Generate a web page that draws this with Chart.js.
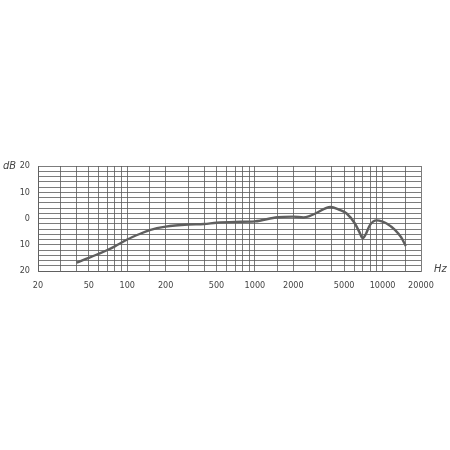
<!DOCTYPE html>
<html>
<head>
<meta charset="utf-8">
<script src="https://cdn.jsdelivr.net/npm/chart.js@4"></script>
<style>
  html, body { margin: 0; padding: 0; background: #fff; }
  #wrap { width: 450px; height: 450px; }
</style>
</head>
<body>
<div id="wrap"><canvas id="responseChart" width="450" height="450"></canvas></div>
<script>
// frequency response
const freqs = [40, 50, 60, 70, 80, 100, 125, 150, 200, 300, 400, 500, 700, 1000, 1500, 2000, 2400, 2700, 3000, 3900, 4600, 5230, 6070, 6560, 6980, 7400, 7960, 8980, 10000, 10760, 12500, 14000, 15200];
const levels = [-16.8, -15.0, -13.4, -12.0, -10.6, -8.0, -5.9, -4.4, -3.1, -2.3, -2.1, -1.6, -1.3, -1.1, 0.5, 0.7, 0.4, 1.0, 2.0, 4.4, 3.3, 1.9, -1.9, -5.0, -7.5, -5.9, -2.5, -0.7, -1.2, -1.9, -4.3, -7.2, -10.5];

// vertical grid lines and the ones that get a label
const xGridTicks = [20, 30, 40, 50, 60, 70, 80, 90, 100, 150, 200, 300, 400, 500, 600, 700, 800, 900, 1000, 1500, 2000, 3000, 4000, 5000, 6000, 7000, 8000, 9000, 10000, 15000, 20000];
const xLabelTicks = [20, 50, 100, 200, 500, 1000, 2000, 5000, 10000, 20000];
const yLabelTicks = [20, 10, 0, -10, -20];

const fontFamily = '"Liberation Sans Narrow", "DejaVu Sans Condensed", "Liberation Sans", sans-serif';

const unitLabels = {
    id: 'unitLabels',
    afterDraw(chart) {
        const c = chart.ctx;
        c.save();
        c.fillStyle = '#444';
        c.font = 'italic 11px ' + fontFamily;
        c.textBaseline = 'middle';
        c.textAlign = 'left';
        c.fillText('dB', 3, 166);
        c.fillText('Hz', 434, 269);
        c.restore();
    }
};

const ctx = document.getElementById('responseChart').getContext('2d');

new Chart(ctx, {
    type: 'line',
    data: {
        datasets: [{
            data: freqs.map((f, i) => ({ x: f, y: levels[i] })),
            borderColor: '#5f5f5f',
            borderWidth: 2.4,
            pointRadius: 0,
            fill: false,
            cubicInterpolationMode: 'monotone'
        }]
    },
    options: {
        responsive: false,
        animation: false,
        layout: {
            padding: { top: 166, right: 29, bottom: 157, left: 0 }
        },
        plugins: {
            legend: { display: false },
            tooltip: { enabled: false }
        },
        scales: {
            x: {
                type: 'logarithmic',
                min: 20,
                max: 20000,
                afterBuildTicks: scale => {
                    scale.ticks = xGridTicks.map(v => ({ value: v }));
                },
                afterFit: scale => { scale.height = 22; },
                ticks: {
                    autoSkip: false,
                    maxRotation: 0,
                    padding: 9,
                    color: '#444',
                    font: { family: fontFamily, size: 9 },
                    callback: v => xLabelTicks.includes(v) ? String(v) : ''
                },
                grid: { color: '#5a5a5a', lineWidth: 0.8, drawTicks: false },
                border: { color: '#5a5a5a', width: 0.8 }
            },
            y: {
                min: -20,
                max: 20,
                afterFit: scale => { scale.width = 38; },
                ticks: {
                    stepSize: 2,
                    autoSkip: false,
                    padding: 8,
                    color: '#444',
                    font: { family: fontFamily, size: 9 },
                    callback: v => yLabelTicks.includes(v) ? String(Math.abs(v)) : ''
                },
                grid: { color: '#5a5a5a', lineWidth: 0.8, drawTicks: false },
                border: { color: '#5a5a5a', width: 0.8 }
            }
        }
    },
    plugins: [unitLabels]
});
</script>
</body>
</html>
